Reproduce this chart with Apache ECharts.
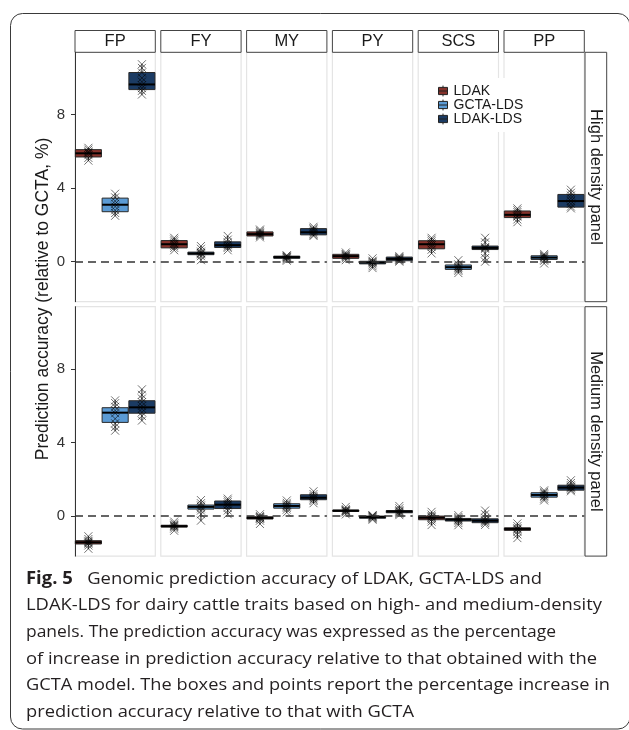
<!DOCTYPE html>
<html>
<head>
<meta charset="utf-8">
<script src="https://cdn.jsdelivr.net/npm/echarts@6/dist/echarts.min.js"></script>
<style>
  html, body { margin: 0; padding: 0; background: #fff; }
  #chart { width: 629px; height: 730px; }
</style>
</head>
<body>
<div id="chart"></div>
<script>
// ---------------- DATA ----------------
const traits = ['FP', 'FY', 'MY', 'PY', 'SCS', 'PP'];
const methods = ['LDAK', 'GCTA-LDS', 'LDAK-LDS'];
const panelNames = ['High density panel', 'Medium density panel'];
const yTicks = [0, 4, 8];
const yTitle = 'Prediction accuracy (relative to GCTA, %)';

// box statistics per trait: [min, Q1, median, Q3, max]
const highLDAKBox = [[5.5, 5.7, 5.9, 6.1, 6.2], [0.62, 0.75, 0.95, 1.15, 1.3], [1.32, 1.4, 1.5, 1.62, 1.75], [0.08, 0.18, 0.3, 0.4, 0.5], [0.45, 0.7, 0.95, 1.14, 1.3], [2.15, 2.4, 2.55, 2.76, 2.9]];
const highGCTALDSBox = [[2.5, 2.72, 3.1, 3.46, 3.7], [0.08, 0.38, 0.45, 0.52, 0.85], [0.05, 0.18, 0.25, 0.3, 0.35], [-0.35, -0.12, -0.05, 0.02, 0.18], [-0.62, -0.42, -0.3, -0.18, 0.08], [-0.1, 0.12, 0.22, 0.32, 0.42]];
const highLDAKLDSBox = [[9.1, 9.37, 9.65, 10.3, 10.75], [0.62, 0.77, 0.9, 1.08, 1.4], [1.4, 1.46, 1.6, 1.8, 1.9], [0.0, 0.05, 0.15, 0.25, 0.3], [0.0, 0.66, 0.75, 0.85, 1.3], [2.9, 2.97, 3.3, 3.66, 3.92]];
const medLDAKBox = [[-1.78, -1.52, -1.43, -1.34, -1.1], [-0.8, -0.6, -0.55, -0.5, -0.3], [-0.43, -0.16, -0.1, -0.04, 0.1], [0.09, 0.25, 0.29, 0.33, 0.5], [-0.49, -0.2, -0.09, 0.0, 0.23], [-1.2, -0.78, -0.7, -0.64, -0.4]];
const medGCTALDSBox = [[4.65, 5.1, 5.63, 5.9, 6.3], [-0.25, 0.38, 0.5, 0.6, 0.87], [0.2, 0.43, 0.55, 0.67, 0.85], [-0.2, -0.12, -0.05, 0.0, 0.05], [-0.5, -0.27, -0.2, -0.13, 0.05], [0.85, 1.03, 1.15, 1.27, 1.4]];
const medLDAKLDSBox = [[5.2, 5.6, 5.92, 6.28, 6.9], [0.1, 0.41, 0.62, 0.82, 0.95], [0.7, 0.89, 1.0, 1.16, 1.35], [0.05, 0.18, 0.25, 0.3, 0.55], [-0.48, -0.36, -0.25, -0.15, 0.3], [1.35, 1.41, 1.55, 1.68, 1.95]];

// individual replicate points per trait
const highLDAKPts = [[5.5, 5.65, 5.8, 5.9, 5.95, 6.0, 6.1, 6.2], [0.62, 0.75, 0.85, 0.95, 1.0, 1.1, 1.2, 1.3], [1.32, 1.4, 1.45, 1.5, 1.55, 1.6, 1.68, 1.75], [0.08, 0.18, 0.25, 0.3, 0.33, 0.38, 0.42, 0.5], [0.45, 0.65, 0.8, 0.9, 1.0, 1.1, 1.2, 1.3], [2.15, 2.3, 2.45, 2.5, 2.6, 2.7, 2.8, 2.9]];
const highGCTALDSPts = [[2.5, 2.65, 2.8, 3.0, 3.15, 3.3, 3.5, 3.7], [0.08, 0.3, 0.4, 0.45, 0.48, 0.55, 0.7, 0.85], [0.05, 0.12, 0.18, 0.22, 0.25, 0.28, 0.32, 0.35], [-0.35, -0.25, -0.15, -0.08, -0.03, 0.0, 0.05, 0.18], [-0.62, -0.5, -0.42, -0.35, -0.3, -0.22, -0.15, 0.08], [-0.1, 0.05, 0.12, 0.2, 0.25, 0.3, 0.35, 0.42]];
const highLDAKLDSPts = [[9.1, 9.3, 9.45, 9.6, 9.8, 10.0, 10.3, 10.55, 10.75], [0.62, 0.75, 0.82, 0.9, 0.95, 1.05, 1.2, 1.4], [1.4, 1.45, 1.52, 1.6, 1.68, 1.75, 1.82, 1.9], [0.0, 0.05, 0.1, 0.13, 0.17, 0.2, 0.25, 0.3], [0.0, 0.2, 0.45, 0.7, 0.75, 0.8, 1.05, 1.3], [2.9, 3.0, 3.15, 3.3, 3.45, 3.6, 3.75, 3.92]];
const medLDAKPts = [[-1.78, -1.6, -1.5, -1.45, -1.4, -1.35, -1.25, -1.1], [-0.8, -0.68, -0.6, -0.55, -0.52, -0.48, -0.4, -0.3], [-0.43, -0.25, -0.15, -0.12, -0.08, -0.05, 0.0, 0.1], [0.09, 0.2, 0.25, 0.28, 0.3, 0.33, 0.38, 0.5], [-0.49, -0.3, -0.18, -0.1, -0.05, 0.0, 0.08, 0.23], [-1.2, -1.0, -0.85, -0.75, -0.7, -0.66, -0.55, -0.4]];
const medGCTALDSPts = [[4.65, 4.85, 5.05, 5.3, 5.6, 5.75, 5.95, 6.15, 6.3], [-0.25, 0.1, 0.3, 0.42, 0.5, 0.58, 0.7, 0.87], [0.2, 0.35, 0.45, 0.52, 0.58, 0.64, 0.72, 0.85], [-0.2, -0.15, -0.1, -0.06, -0.03, 0.0, 0.03, 0.05], [-0.5, -0.38, -0.28, -0.22, -0.18, -0.12, -0.05, 0.05], [0.85, 0.95, 1.05, 1.1, 1.18, 1.25, 1.32, 1.4]];
const medLDAKLDSPts = [[5.2, 5.45, 5.65, 5.85, 6.0, 6.2, 6.4, 6.6, 6.9], [0.1, 0.3, 0.45, 0.58, 0.65, 0.75, 0.85, 0.95], [0.7, 0.82, 0.9, 0.97, 1.03, 1.1, 1.2, 1.35], [0.05, 0.12, 0.18, 0.23, 0.27, 0.32, 0.42, 0.55], [-0.48, -0.38, -0.3, -0.25, -0.2, -0.1, 0.1, 0.3], [1.35, 1.42, 1.5, 1.55, 1.6, 1.68, 1.8, 1.95]];

const captionBold = 'Fig. 5';
const captionLines = [
  'Genomic prediction accuracy of LDAK, GCTA-LDS and',
  'LDAK-LDS for dairy cattle traits based on high- and medium-density',
  'panels. The prediction accuracy was expressed as the percentage',
  'of increase in prediction accuracy relative to that obtained with the',
  'GCTA model. The boxes and points report the percentage increase in',
  'prediction accuracy relative to that with GCTA'
];

// ---------------- STYLE / LAYOUT ----------------
const methodColors = ['#85322B', '#5B9BD5', '#1B3B63'];
const FONT = '"Liberation Sans", Arial, Helvetica, sans-serif';
const CAP_FONT = '"Open Sans", "Noto Sans", sans-serif';
const boxesByRow = [[highLDAKBox, highGCTALDSBox, highLDAKLDSBox], [medLDAKBox, medGCTALDSBox, medLDAKLDSBox]];
const ptsByRow = [[highLDAKPts, highGCTALDSPts, highLDAKLDSPts], [medLDAKPts, medGCTALDSPts, medLDAKLDSPts]];

const colLeft0 = 75, colPitch = 85.8, colW = 80.3;
const rowTops = [52.3, 306.7], rowH = 249.4;
const yMin = -2.18, yMax = 11.4;

const grids = [], xAxes = [], yAxes = [], series = [], graphics = [];

function renderBox(params, api) {
  const cat = api.value(0);
  const x = api.coord([cat, 0])[0];
  const w = api.size([1, 0])[0] * 0.975;
  const ys = [1, 2, 3, 4, 5].map(i => api.coord([cat, api.value(i)])[1]);
  const color = api.visual('color');
  return {
    type: 'group',
    children: [
      { type: 'line', shape: { x1: x, y1: ys[0], x2: x, y2: ys[1] }, style: { stroke: '#222', lineWidth: 1 } },
      { type: 'line', shape: { x1: x, y1: ys[3], x2: x, y2: ys[4] }, style: { stroke: '#222', lineWidth: 1 } },
      { type: 'rect', shape: { x: x - w / 2, y: ys[3], width: w, height: ys[1] - ys[3] }, style: { fill: color, stroke: '#2a2a2a', lineWidth: 1 } },
      { type: 'line', shape: { x1: x - w / 2, y1: ys[2], x2: x + w / 2, y2: ys[2] }, style: { stroke: '#000', lineWidth: 2 } }
    ]
  };
}

for (let r = 0; r < 2; r++) {
  for (let c = 0; c < 6; c++) {
    const g = r * 6 + c;
    const left = colLeft0 + c * colPitch;
    grids.push({
      left: left, top: rowTops[r], width: colW, height: rowH,
      show: true, borderColor: '#e4e4e4', borderWidth: 1.2, backgroundColor: '#fff'
    });
    xAxes.push({ gridIndex: g, type: 'category', data: methods, show: false, boundaryGap: true });
    const first = c === 0;
    yAxes.push({
      gridIndex: g, type: 'value', min: yMin, max: yMax,
      splitLine: { show: false },
      axisLine: { show: first, lineStyle: { color: '#333', width: 1 } },
      axisTick: { show: first, length: 4, customValues: yTicks, lineStyle: { color: '#333' } },
      axisLabel: { show: first, customValues: yTicks, fontSize: 15, color: '#333', fontFamily: FONT, margin: 10 }
    });
    for (let m = 0; m < 3; m++) {
      const b = boxesByRow[r][m][c];
      series.push({
        type: 'custom', name: methods[m], xAxisIndex: g, yAxisIndex: g,
        renderItem: renderBox, silent: true, z: 2,
        itemStyle: { color: methodColors[m] },
        encode: { x: 0, y: [1, 2, 3, 4, 5] },
        data: [[m, b[0], b[1], b[2], b[3], b[4]]]
      });
    }
    const pts = [];
    for (let m = 0; m < 3; m++) {
      ptsByRow[r][m][c].forEach(v => pts.push([m, v]));
    }
    series.push({
      type: 'scatter', xAxisIndex: g, yAxisIndex: g, silent: true, z: 3,
      symbol: 'path://M0,0L10,10M10,0L0,10', symbolSize: 8,
      itemStyle: { color: 'rgba(0,0,0,0)', borderColor: 'rgba(0,0,0,0.7)', borderWidth: 1 },
      data: pts,
      markLine: {
        silent: true, symbol: ['none', 'none'], label: { show: false },
        lineStyle: { color: '#333', type: [8, 5], width: 1.6 },
        data: [{ yAxis: 0 }]
      }
    });
    if (r === 0) {
      graphics.push({
        type: 'rect', shape: { x: left, y: 30.5, width: colW, height: 21.8 },
        style: { fill: '#fff', stroke: '#444', lineWidth: 1 }
      });
      graphics.push({
        type: 'text', x: left + colW / 2, y: 41.8,
        style: { text: traits[c], fontSize: 16.5, fontFamily: FONT, fill: '#1a1a1a', align: 'center', verticalAlign: 'middle' }
      });
    }
  }
  graphics.push({
    type: 'rect', shape: { x: 585, y: rowTops[r], width: 21.7, height: rowH },
    style: { fill: '#fff', stroke: '#444', lineWidth: 1 }
  });
  graphics.push({
    type: 'text', x: 596, y: rowTops[r] + rowH / 2, rotation: -Math.PI / 2,
    style: { text: panelNames[r], fontSize: 16.5, fontFamily: FONT, fill: '#1a1a1a', align: 'center', verticalAlign: 'middle' }
  });
}

// y-axis title
graphics.push({
  type: 'text', x: 43.5, y: 299, rotation: Math.PI / 2,
  style: { text: yTitle, fontSize: 17.5, fontFamily: FONT, fill: '#1a1a1a', align: 'center', verticalAlign: 'middle' }
});

// frame
graphics.push({
  type: 'rect', shape: { x: 10.5, y: 13.5, width: 619.5, height: 715.5, r: 12 },
  style: { fill: 'none', stroke: '#3a3a3a', lineWidth: 1 }, z: -1
});

// caption: each line stretched/condensed to the width it has in the figure
const capSize = 17;
const capLeft = 26;
const capRight = [542, 602, 556, 597, 610, 414];
const baselines = [585, 611.6, 638.2, 664.8, 691.4, 718];
const mc = document.createElement('canvas').getContext('2d');
captionLines.forEach((t, i) => {
  let w, text, rich;
  mc.font = capSize + 'px ' + CAP_FONT;
  if (i === 0) {
    const restW = mc.measureText('   ' + t).width;
    mc.font = 'bold ' + capSize + 'px ' + CAP_FONT;
    w = restW + mc.measureText(captionBold).width;
    text = '{b|' + captionBold + '}   ' + t;
  } else {
    w = mc.measureText(t).width;
    text = t;
  }
  graphics.push({
    type: 'text', x: capLeft, y: baselines[i] - 6, scaleX: (capRight[i] - capLeft) / w,
    style: {
      text: text, fontSize: capSize, fontFamily: CAP_FONT, fill: '#231f20',
      align: 'left', verticalAlign: 'middle',
      rich: { b: { fontWeight: 'bold', fontSize: capSize, fontFamily: CAP_FONT, fill: '#231f20' } }
    }
  });
});

const legendIcon = 'path://M0,2H10V10H0Z M0,6H10 M5,0V2 M5,10V12';

const chart = echarts.init(document.getElementById('chart'), null, { renderer: 'canvas' });
chart.setOption({
  animation: false,
  backgroundColor: '#fff',
  grid: grids,
  xAxis: xAxes,
  yAxis: yAxes,
  legend: {
    orient: 'vertical', left: 432, top: 78,
    padding: [6, 6, 6, 6], itemGap: 0,
    itemWidth: 9, itemHeight: 11,
    backgroundColor: '#fff',
    data: methods.map(n => ({ name: n, icon: legendIcon })),
    itemStyle: { borderColor: '#222', borderWidth: 1 },
    textStyle: { fontSize: 14, fontFamily: FONT, color: '#1a1a1a', padding: [0, 0, 0, 1] },
    selectedMode: false
  },
  series: series,
  graphic: { elements: graphics }
});
</script>
</body>
</html>
